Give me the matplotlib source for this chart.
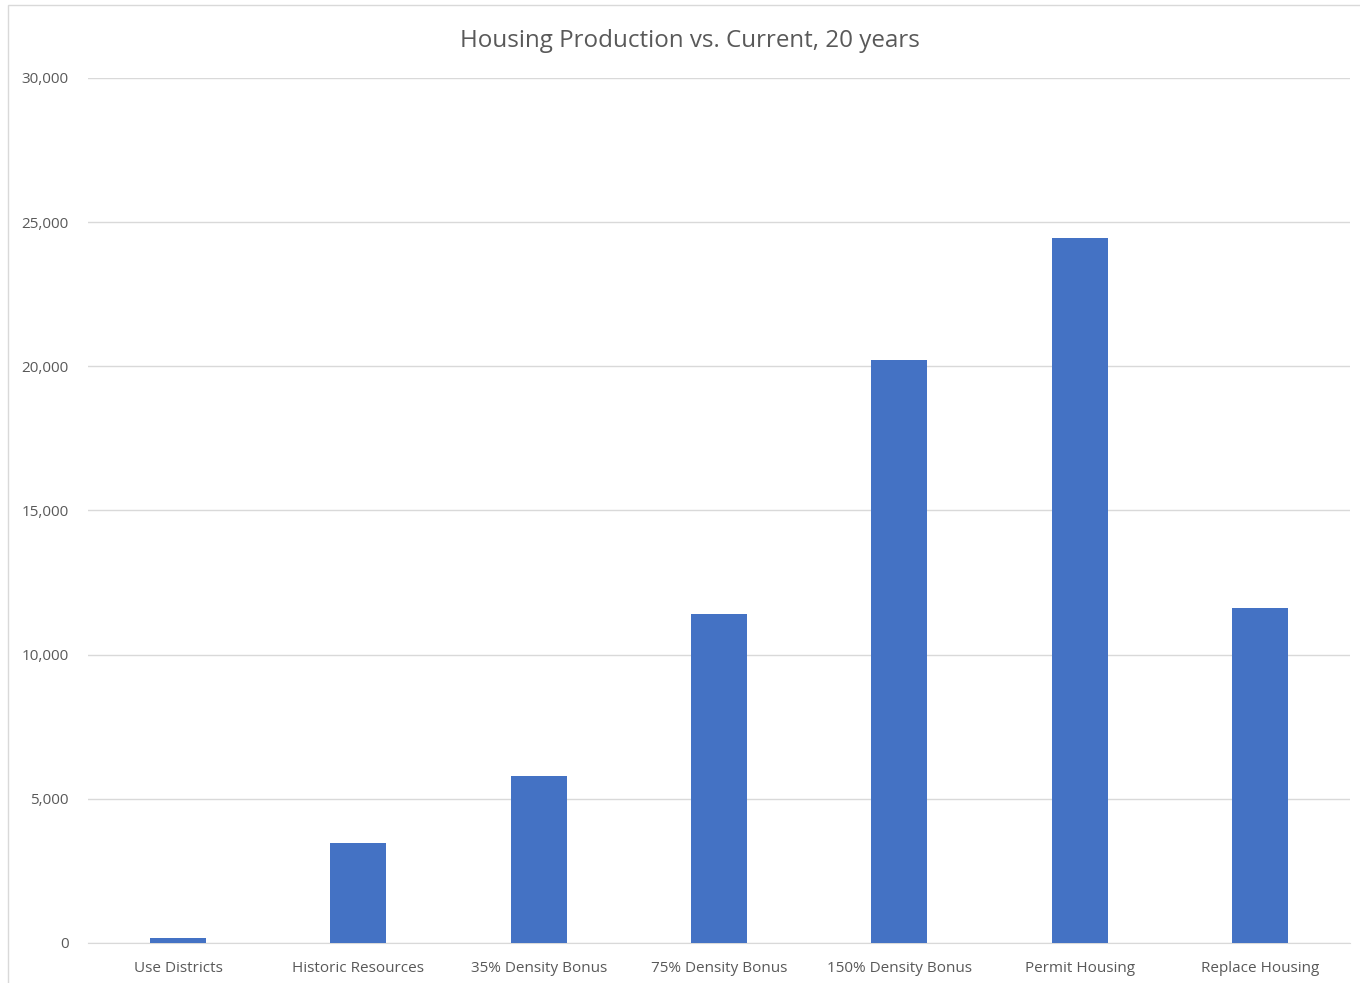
import matplotlib
matplotlib.use("Agg")
import matplotlib.pyplot as plt
from matplotlib.ticker import FuncFormatter, MultipleLocator
from matplotlib.patches import Rectangle

categories = ["Use Districts", "Historic Resources", "35% Density Bonus",
              "75% Density Bonus", "150% Density Bonus", "Permit Housing",
              "Replace Housing"]
units = [190, 3470, 5800, 11420, 20230, 24440, 11620]

plt.rcParams['font.family'] = ['Open Sans', 'DejaVu Sans']
text_color = '#595959'

fig = plt.figure(figsize=(13.6, 9.83), dpi=100)
ax = fig.add_axes([0.0647, 0.0407, 0.928, 0.88])

x = range(len(categories))
ax.bar(x, units, width=0.31, color='#4472C4', zorder=3)

ax.set_xlim(-0.5, len(categories) - 0.5)
ax.set_ylim(0, 30000)
ax.yaxis.set_major_locator(MultipleLocator(5000))
ax.yaxis.set_major_formatter(FuncFormatter(lambda v, p: f"{int(v):,}"))
ax.set_xticks(list(x))
ax.set_xticklabels(categories)
ax.grid(axis='y', color='#D9D9D9', linewidth=1, zorder=0)
for s in ['top', 'right', 'left']:
    ax.spines[s].set_visible(False)
ax.spines['bottom'].set_color('#D9D9D9')
ax.tick_params(axis='both', length=0, colors=text_color, labelsize=11)
ax.tick_params(axis='x', pad=13)
ax.tick_params(axis='y', pad=14)

fig.text(0.507, 0.9585, "Housing Production vs. Current, 20 years",
         ha='center', va='center', fontsize=17.4, color=text_color)

# chart border
fig.patches.append(Rectangle((0.006, -0.01), 1.0, 1.005, transform=fig.transFigure,
                             fill=False, edgecolor='#D9D9D9', linewidth=1))

fig.savefig("out.png", dpi=100)
